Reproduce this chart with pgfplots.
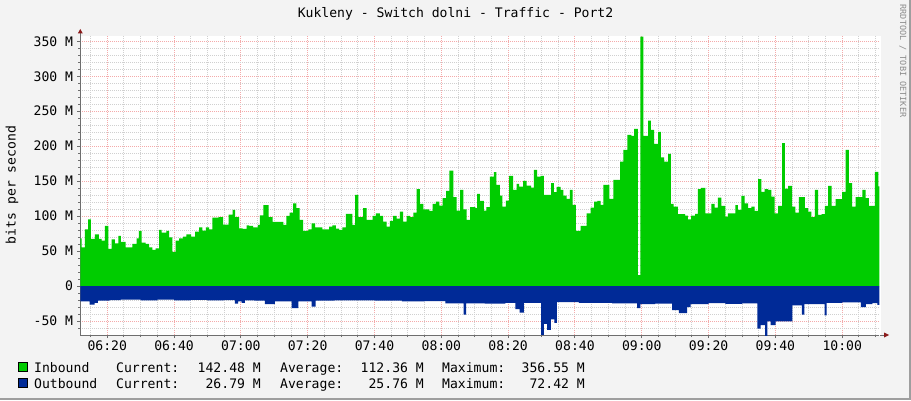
\documentclass[border=0pt]{standalone}
\usepackage{pgfplots}
\pgfplotsset{compat=1.18}
\usepackage{fontspec}
\setmonofont{DejaVu Sans Mono}
\definecolor{inb}{HTML}{00CC00}
\definecolor{outb}{HTML}{002A97}
\definecolor{bg}{HTML}{F3F3F3}
\definecolor{mgridc}{HTML}{F4AAAA}
\definecolor{gridc}{HTML}{D0D0D0}
\definecolor{axc}{HTML}{6E6E6E}
\definecolor{arrc}{HTML}{8B1A1A}
\newcommand{\rf}{\ttfamily\fontsize{13.1}{14}\selectfont}
\begin{document}
\begin{tikzpicture}[x=1pt,y=1pt]
\useasboundingbox (0,0) rectangle (911,400);
\fill[bg] (0,0) rectangle (911,400);
\fill[black!38] (909,0) rectangle (911,400);
\fill[black!38] (0,0) rectangle (911,2);
\fill[white] (80.3,65) rectangle (881,364.3);
\begin{axis}[
  at={(80.3pt,65pt)}, anchor=south west,
  scale only axis, width=799pt, height=299.3pt,
  xmin=11.93, xmax=251.1, ymin=-70, ymax=358,
  axis x line*=bottom, axis y line*=left,
  axis line style={draw=axc, line width=1pt},
  xtick={20,40,...,240},
  xticklabels={06:20,06:40,07:00,07:20,07:40,08:00,08:20,08:40,09:00,09:20,09:40,10:00},
  minor xtick={15,25,30,35,45,50,55,65,70,75,85,90,95,105,110,115,125,130,135,145,150,155,165,170,175,185,190,195,205,210,215,225,230,235,245,250},
  ytick={-50,0,50,100,150,200,250,300,350},
  yticklabels={-50 M,0,50 M,100 M,150 M,200 M,250 M,300 M,350 M},
  minor ytick={-60,-40,-30,-20,-10,10,20,30,40,60,70,80,90,110,120,130,140,160,170,180,190,210,220,230,240,260,270,280,290,310,320,330,340},
  grid=both,
  major grid style={draw=mgridc, line width=1pt, dash pattern=on 1pt off 1pt},
  minor grid style={draw=gridc, line width=1pt, dash pattern=on 1pt off 1pt},
  tick align=outside,
  major tick length=3pt, minor tick length=2pt,
  tick style={draw=axc, line width=1pt},
  yticklabel style={font=\rf, anchor=east, inner sep=0pt, xshift=-4pt},
  xticklabel style={font=\rf, anchor=north, inner sep=0pt, yshift=-3pt},
]
\addplot[const plot, fill=inb, draw=none] coordinates {
(11.93,68) (12.3,55.4) (13.3,81.2) (14.3,95.5) (15.1,67.3) (16.3,74.0) (17.5,67.3) (18.3,64.9) (19.3,86.0) (20.3,53.0)
(21.3,66.9) (22.3,61.1) (23.3,71.6) (24.1,63.0) (25.5,55.4) (27.5,60.2) (28.8,68.3) (29.5,78.8) (30.3,62.1) (31.5,60.2)
(32.5,55.4) (33.5,51.6) (34.5,54.0) (35.5,80.2) (36.3,76.4) (37.7,78.8) (38.5,69.7) (39.5,48.7) (40.5,64.9) (41.5,68.3)
(42.7,70.7) (43.7,74.0) (45.1,70.7) (46.3,77.8) (47.5,84.0) (48.5,79.3) (49.5,84.0) (50.5,81.2) (51.5,97.9) (53.3,98.4)
(54.7,87.9) (56.3,102.2) (57.5,108.9) (58.3,98.4) (59.5,82.6) (60.5,81.7) (61.7,86.9) (62.5,86.0) (63.7,84.0) (65.1,87.4)
(65.7,101.2) (66.7,115.6) (68.3,98.4) (69.5,91.7) (72.7,87.4) (73.6,100.3) (74.6,105.1) (75.6,118.4) (76.6,111.3) (77.6,94.6)
(78.6,78.8) (80.2,81.2) (81.2,89.8) (82.2,84.0) (84.4,81.2) (86.4,85.0) (87.4,86.9) (88.4,82.1) (89.4,80.2) (90.4,84.0)
(91.4,103.2) (93.4,87.4) (94.2,130.4) (95.2,98.4) (96.6,111.3) (97.6,94.6) (99.4,100.3) (100.4,104.1) (101.6,100.3) (102.6,92.2)
(103.6,85.0) (104.6,93.1) (105.6,100.3) (106.6,96.5) (107.6,106.5) (108.6,92.2) (109.6,100.3) (110.6,98.4) (111.6,105.1) (112.6,138.5)
(113.6,117.5) (114.6,109.8) (116.4,107.4) (117.4,117.5) (118.4,120.8) (119.4,115.1) (120.4,125.6) (121.4,136.1) (122.4,165.2) (123.6,127.0)
(124.6,107.9) (125.6,137.5) (126.6,109.8) (127.6,94.6) (128.6,112.7) (130.2,111.3) (130.7,131.8) (131.5,121.8) (132.7,107.9) (133.5,112.7)
(134.5,156.6) (135.7,162.8) (136.5,144.7) (137.5,129.4) (138.3,113.7) (139.3,122.3) (140.3,157.6) (141.5,137.5) (142.5,146.1) (143.3,142.3)
(144.5,150.4) (145.5,143.7) (146.9,140.9) (147.7,166.2) (148.7,156.6) (149.7,157.6) (150.7,130.4) (152.9,147.1) (153.7,134.2) (154.5,141.8)
(155.7,137.5) (156.5,129.4) (157.5,124.6) (158.5,137.5) (159.3,116.0) (160.3,78.8) (161.7,86.0) (163.5,104.1) (164.7,112.2) (165.7,120.8)
(166.7,121.8) (167.7,116.0) (168.5,144.7) (170.3,124.6) (171.5,151.9) (173.5,178.1) (174.5,194.8) (175.7,216.3) (176.9,214.9) (177.7,224.9)
(178.8,15.8) (179.6,356.55) (180.5,214.9) (181.9,236.4) (182.7,223.5) (183.7,203.4) (184.9,220.6) (185.7,183.9) (186.7,178.1) (187.9,189.1)
(188.7,117.5) (189.5,113.7) (190.8,102.7) (193.0,100.8) (193.8,95.5) (194.8,100.8) (196.0,103.2) (196.8,138.5) (197.8,140.4) (199.0,104.1)
(200.8,117.5) (201.8,112.2) (202.8,126.6) (203.8,114.6) (205.0,99.3) (205.8,104.1) (208.0,115.6) (208.8,108.9) (209.8,128.9) (210.8,118.4)
(211.8,111.3) (212.8,113.7) (213.8,107.4) (214.8,152.8) (215.8,134.7) (216.8,138.5) (217.8,137.5) (218.8,128.0) (219.8,104.1) (220.8,114.6)
(222.0,204.4) (222.8,139.4) (223.8,143.3) (225.0,113.7) (226.0,105.1) (227.0,127.0) (228.8,111.3) (229.8,106.5) (230.8,98.4) (231.8,137.5)
(232.8,101.7) (233.8,102.7) (234.8,114.6) (235.8,143.3) (236.8,114.6) (238.0,124.2) (240.0,134.7) (241.0,194.8) (242.0,147.1) (243.0,113.7)
(244.0,127.0) (246.0,137.5) (247.0,125.6) (248.0,114.6) (249.8,163.3) (250.8,142.48) (251.3,142.48)
} \closedcycle;
\addplot[const plot, fill=outb, draw=none] coordinates {
(11.93,-22) (14.7,-26.7) (16.2,-24) (17.2,-21) (20.7,-20) (24,-19.5) (30,-20.5) (35,-19.5) (40,-20.5) (45,-19.8)
(50,-20.5) (55,-20) (58.2,-25) (59.2,-22) (60.2,-24) (61.2,-20.5) (64,-21) (67.2,-25.8) (70.2,-22) (75.2,-31.5)
(77.2,-22) (81.2,-29.6) (82.4,-21) (88,-20.5) (92.2,-20.5) (100,-21) (108.2,-22) (115,-21.5) (121.2,-24.8) (126.7,-41)
(127.4,-24.8) (133,-25) (139.2,-24) (142.2,-33) (143.4,-38) (144.7,-24) (149.9,-69.7) (150.7,-54) (151.7,-62.6) (152.8,-47.8)
(153.8,-52.5) (154.6,-23) (161.2,-24) (171.1,-24.8) (178.6,-31.5) (179.6,-25.8) (184,-25) (189.1,-34.4) (191.1,-38.7) (193.6,-30)
(194.6,-25.8) (200,-24.5) (205,-25.5) (210,-24.8) (214.6,-61) (215.6,-56) (216.9,-72.42) (217.6,-50.6) (218.6,-56) (220.1,-50.6)
(225.1,-27.7) (227.9,-41) (228.7,-25.8) (234.7,-42) (235.3,-24) (240,-23.5) (245.6,-30) (247.1,-25.8) (249,-24.5) (250.5,-26.79)
(251.3,-26.79)
} \closedcycle;
\end{axis}
% axis arrows
\draw[axc, line width=1pt] (880,65) -- (884,65);
\fill[arrc] (884,62.5) -- (884,67.5) -- (889,65) -- cycle;
\draw[axc, line width=1pt] (80.3,364) -- (80.3,366.5);
\fill[arrc] (77.8,366.5) -- (82.8,366.5) -- (80.3,371) -- cycle;
% title and labels
\node[font=\rf, inner sep=0pt] at (455.5,386) {Kukleny - Switch dolni - Traffic - Port2};
\node[font=\rf, inner sep=0pt, rotate=90] at (12,215) {bits per second};
\node[font=\ttfamily\fontsize{8.5}{10}\selectfont, text=black!45, inner sep=0pt, rotate=-90] at (903,339) {RRDTOOL / TOBI OETIKER};
% legend
\filldraw[fill=inb, draw=black, line width=0.8pt] (18.5,28.5) rectangle (27.5,37.5);
\filldraw[fill=outb, draw=black, line width=0.8pt] (18.5,12.5) rectangle (27.5,21.5);
\begin{scope}[every node/.style={font=\rf, inner sep=0pt}]
\node[anchor=base west] at (34,28) {Inbound};
\node[anchor=base west] at (116,28) {Current:};
\node[anchor=base east] at (261,28) {142.48 M};
\node[anchor=base west] at (280,28) {Average:};
\node[anchor=base east] at (424,28) {112.36 M};
\node[anchor=base west] at (442,28) {Maximum:};
\node[anchor=base east] at (585,28) {356.55 M};
\node[anchor=base west] at (34,12) {Outbound};
\node[anchor=base west] at (116,12) {Current:};
\node[anchor=base east] at (261,12) {26.79 M};
\node[anchor=base west] at (280,12) {Average:};
\node[anchor=base east] at (424,12) {25.76 M};
\node[anchor=base west] at (442,12) {Maximum:};
\node[anchor=base east] at (585,12) {72.42 M};
\end{scope}
\end{tikzpicture}
\end{document}
